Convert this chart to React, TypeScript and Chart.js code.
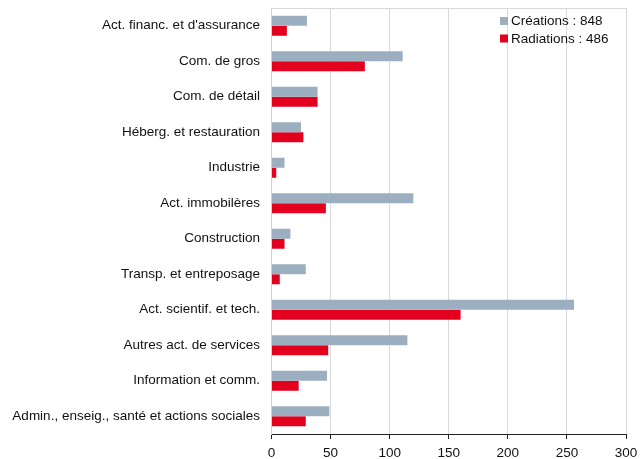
import React, { useEffect, useRef } from "react";
import { Chart, registerables } from "chart.js";

Chart.register(...registerables);

const categories = [
  "Act. financ. et d'assurance",
  "Com. de gros",
  "Com. de détail",
  "Héberg. et restauration",
  "Industrie",
  "Act. immobilères",
  "Construction",
  "Transp. et entreposage",
  "Act. scientif. et tech.",
  "Autres act. de services",
  "Information et comm.",
  "Admin., enseig., santé et actions sociales",
];
const creations = [30, 111, 39, 25, 11, 120, 16, 29, 256, 115, 47, 49];
const radiations = [13, 79, 39, 27, 4, 46, 11, 7, 160, 48, 23, 29];
const seriesLabels = ["Créations : 848", "Radiations : 486"];
const xTicks = [0, 50, 100, 150, 200, 250, 300];

const GRAY = "#9cafc0";
const RED = "#e3001f";
const FONT = "'Liberation Sans', Arial, sans-serif";

const legendPlugin = {
  id: "insideLegend",
  afterDraw(chart: any) {
    const { ctx, chartArea } = chart;
    ctx.save();
    ctx.strokeStyle = "#d9d9d9";
    ctx.lineWidth = 1;
    ctx.beginPath();
    ctx.moveTo(chartArea.left, chartArea.top + 0.5);
    ctx.lineTo(chartArea.right, chartArea.top + 0.5);
    ctx.stroke();
    const x = 500;
    const ys = [21, 38.5];
    ctx.font = `13.5px ${FONT}`;
    ctx.textBaseline = "middle";
    ctx.textAlign = "left";
    chart.data.datasets.forEach((ds: any, i: number) => {
      ctx.fillStyle = ds.backgroundColor;
      ctx.fillRect(x, ys[i] - 4, 8, 8);
      ctx.fillStyle = "#111";
      ctx.fillText(ds.label, x + 11, ys[i] + 0.5);
    });
    ctx.restore();
  },
};

export default function App() {
  const ref = useRef<HTMLCanvasElement | null>(null);
  useEffect(() => {
    document.body.style.margin = "0";
    const chart = new Chart(ref.current as HTMLCanvasElement, {
      type: "bar",
      data: {
        labels: categories,
        datasets: [
          { label: seriesLabels[0], data: creations, backgroundColor: GRAY },
          { label: seriesLabels[1], data: radiations, backgroundColor: RED },
        ],
      },
      plugins: [legendPlugin],
      options: {
        indexAxis: "y",
        animation: false,
        responsive: false,
        maintainAspectRatio: false,
        layout: { padding: { left: 0, right: 14, top: 8, bottom: 0 } },
        datasets: { bar: { categoryPercentage: 0.56, barPercentage: 1 } },
        plugins: { legend: { display: false }, tooltip: { enabled: false } },
        scales: {
          x: {
            min: 0,
            max: 300,
            afterBuildTicks: (axis: any) => {
              axis.ticks = xTicks.map((v) => ({ value: v }));
            },
            afterFit: (axis: any) => {
              axis.height = 25;
              axis.paddingLeft = 0;
              axis.paddingRight = 0;
            },
            grid: {
              color: "#d9d9d9",
              tickColor: "#222",
              tickLength: 5,
              drawTicks: true,
            },
            border: { color: "#222", width: 1 },
            ticks: {
              color: "#111",
              font: { family: FONT, size: 13.5 },
              padding: 6,
              maxRotation: 0,
            },
          },
          y: {
            afterFit: (axis: any) => {
              axis.width = 271.5;
              axis.paddingTop = 0;
              axis.paddingBottom = 0;
            },
            grid: { display: false, drawTicks: false },
            border: { color: "#d0d0d0", width: 1 },
            ticks: {
              color: "#111",
              font: { family: FONT, size: 13.5 },
              padding: 11.5,
              autoSkip: false,
            },
          },
        },
      },
    });
    return () => chart.destroy();
  }, []);
  return (
    <div style={{ width: 640, height: 459 }}>
      <canvas ref={ref} width={640} height={459} style={{ width: 640, height: 459, display: "block" }} />
    </div>
  );
}
